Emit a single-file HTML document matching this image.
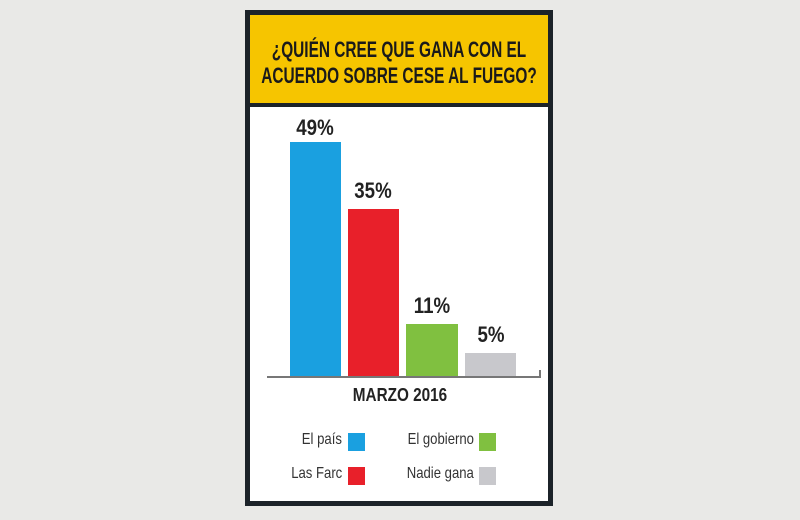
<!DOCTYPE html>
<html><head><style>
body{margin:0;width:800px;height:520px;background:#e9e9e7;position:relative;overflow:hidden;font-family:"Liberation Sans",sans-serif}
.card{position:absolute;left:245px;top:10px;width:298px;height:486px;border:5px solid #1c2329;background:#fff}
.hd{position:absolute;left:0;top:0;width:298px;height:88px;background:#f6c500;border-bottom:4px solid #1c2329;color:#1a1a1a}
.hl{position:absolute;left:-50px;width:398px;text-align:center;white-space:nowrap;font-weight:bold;font-size:22px;transform:scaleX(0.7);line-height:26px}
.abs{position:absolute}
.v{position:absolute;font-weight:bold;font-size:22px;color:#222;width:60px;text-align:center;transform:scaleX(0.85)}
.lg{position:absolute;font-size:16px;color:#333;text-align:right;white-space:nowrap;transform:scaleX(0.82);transform-origin:right}
.sq{position:absolute;width:17px;height:18px}
</style></head><body>
<div class="card">
<div class="hd"><div class="hl" style="top:22px">¿QUIÉN CREE QUE GANA CON EL</div><div class="hl" style="top:48px">ACUERDO SOBRE CESE AL FUEGO?</div></div>
</div>
<div class="abs" style="left:290px;top:142px;width:51px;height:235px;background:#1aa0e0"></div>
<div class="abs" style="left:348px;top:209px;width:51px;height:168px;background:#e8202a"></div>
<div class="abs" style="left:406px;top:324px;width:52px;height:53px;background:#80c040"></div>
<div class="abs" style="left:465px;top:353px;width:51px;height:24px;background:#c8c8cc"></div>
<div class="abs" style="left:267px;top:376px;width:274px;height:2px;background:#777"></div>
<div class="abs" style="left:539px;top:370px;width:2px;height:8px;background:#777"></div>
<div class="v" style="left:285px;top:115px">49%</div>
<div class="v" style="left:343px;top:178px">35%</div>
<div class="v" style="left:402px;top:293px">11%</div>
<div class="v" style="left:461px;top:322px">5%</div>
<div class="abs" style="left:300px;top:385px;width:200px;text-align:center;font-weight:bold;font-size:18px;color:#222;transform:scaleX(0.85)">MARZO 2016</div>
<div class="lg" style="right:458px;top:431px">El país</div>
<div class="sq" style="left:348px;top:433px;background:#1aa0e0"></div>
<div class="lg" style="right:326px;top:431px">El gobierno</div>
<div class="sq" style="left:479px;top:433px;background:#80c040"></div>
<div class="lg" style="right:458px;top:465px">Las Farc</div>
<div class="sq" style="left:348px;top:467px;background:#e8202a"></div>
<div class="lg" style="right:326px;top:465px">Nadie gana</div>
<div class="sq" style="left:479px;top:467px;background:#c8c8cc"></div>
</body></html>
